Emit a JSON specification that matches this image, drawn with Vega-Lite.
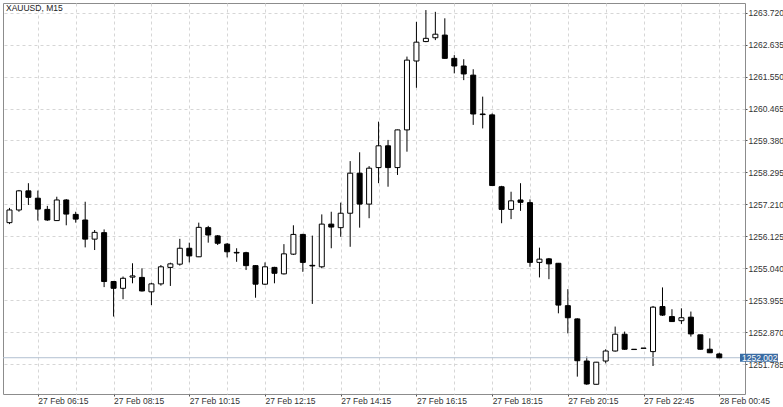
{
  "$schema": "https://vega.github.io/schema/vega-lite/v6.json",
  "width": 742,
  "height": 391,
  "autosize": {"type": "none"},
  "padding": {"left": 3, "top": 3, "right": 38, "bottom": 13},
  "background": "white",
  "title": {"text": "XAUUSD, M15", "anchor": "start", "frame": "group", "offset": -9, "dx": 3, "fontSize": 8.5, "fontWeight": "normal", "font": "Liberation Sans", "color": "#222"},
  "config": {
    "view": {"stroke": "#8c8c8c", "strokeWidth": 1},
    "axis": {"labelFont": "Liberation Sans", "labelFontSize": 8.5, "labelColor": "#333", "tickColor": "#555", "domain": false, "title": null, "gridColor": "#d6d6d6", "gridDash": [3, 3], "gridWidth": 1, "labelOverlap": false}
  },
  "data": {"values": [
    {"i":0,"t":"27 Feb 05:30","o":1256.59,"h":1257.09,"l":1256.54,"c":1257.02},
    {"i":1,"t":"27 Feb 05:45","o":1257.02,"h":1257.70,"l":1256.96,"c":1257.67},
    {"i":2,"t":"27 Feb 06:00","o":1257.67,"h":1257.93,"l":1257.19,"c":1257.45},
    {"i":3,"t":"27 Feb 06:15","o":1257.42,"h":1257.68,"l":1256.66,"c":1257.05},
    {"i":4,"t":"27 Feb 06:30","o":1257.04,"h":1257.16,"l":1256.65,"c":1256.68},
    {"i":5,"t":"27 Feb 06:45","o":1256.66,"h":1257.47,"l":1256.65,"c":1257.36},
    {"i":6,"t":"27 Feb 07:00","o":1257.36,"h":1257.39,"l":1256.50,"c":1256.88},
    {"i":7,"t":"27 Feb 07:15","o":1256.87,"h":1256.96,"l":1256.59,"c":1256.71},
    {"i":8,"t":"27 Feb 07:30","o":1256.68,"h":1257.30,"l":1255.75,"c":1256.03},
    {"i":9,"t":"27 Feb 07:45","o":1256.03,"h":1256.34,"l":1255.66,"c":1256.26},
    {"i":10,"t":"27 Feb 08:00","o":1256.25,"h":1256.36,"l":1254.40,"c":1254.59},
    {"i":11,"t":"27 Feb 08:15","o":1254.59,"h":1254.61,"l":1253.40,"c":1254.36},
    {"i":12,"t":"27 Feb 08:30","o":1254.36,"h":1254.76,"l":1253.99,"c":1254.70},
    {"i":13,"t":"27 Feb 08:45","o":1254.74,"h":1255.21,"l":1254.53,"c":1254.78},
    {"i":14,"t":"27 Feb 09:00","o":1254.73,"h":1255.04,"l":1254.25,"c":1254.27},
    {"i":15,"t":"27 Feb 09:15","o":1254.24,"h":1254.55,"l":1253.79,"c":1254.51},
    {"i":16,"t":"27 Feb 09:30","o":1254.51,"h":1255.15,"l":1254.45,"c":1255.09},
    {"i":17,"t":"27 Feb 09:45","o":1255.07,"h":1255.23,"l":1254.44,"c":1255.19},
    {"i":18,"t":"27 Feb 10:00","o":1255.18,"h":1256.04,"l":1255.13,"c":1255.72},
    {"i":19,"t":"27 Feb 10:15","o":1255.72,"h":1255.91,"l":1255.24,"c":1255.46},
    {"i":20,"t":"27 Feb 10:30","o":1255.43,"h":1256.59,"l":1255.42,"c":1256.43},
    {"i":21,"t":"27 Feb 10:45","o":1256.42,"h":1256.48,"l":1255.91,"c":1256.17},
    {"i":22,"t":"27 Feb 11:00","o":1256.14,"h":1256.17,"l":1255.83,"c":1255.89},
    {"i":23,"t":"27 Feb 11:15","o":1255.86,"h":1255.90,"l":1255.41,"c":1255.60},
    {"i":24,"t":"27 Feb 11:30","o":1255.58,"h":1255.72,"l":1255.26,"c":1255.56},
    {"i":25,"t":"27 Feb 11:45","o":1255.57,"h":1255.60,"l":1254.98,"c":1255.13},
    {"i":26,"t":"27 Feb 12:00","o":1255.13,"h":1255.15,"l":1254.04,"c":1254.50},
    {"i":27,"t":"27 Feb 12:15","o":1254.50,"h":1255.24,"l":1254.47,"c":1255.09},
    {"i":28,"t":"27 Feb 12:30","o":1255.07,"h":1255.09,"l":1254.53,"c":1254.87},
    {"i":29,"t":"27 Feb 12:45","o":1254.85,"h":1255.86,"l":1254.83,"c":1255.53},
    {"i":30,"t":"27 Feb 13:00","o":1255.52,"h":1256.50,"l":1255.49,"c":1256.19},
    {"i":31,"t":"27 Feb 13:15","o":1256.19,"h":1256.21,"l":1254.92,"c":1255.24},
    {"i":32,"t":"27 Feb 13:30","o":1255.14,"h":1256.15,"l":1253.83,"c":1255.12},
    {"i":33,"t":"27 Feb 13:45","o":1255.09,"h":1256.87,"l":1255.04,"c":1256.54},
    {"i":34,"t":"27 Feb 14:00","o":1256.54,"h":1256.96,"l":1255.72,"c":1256.44},
    {"i":35,"t":"27 Feb 14:15","o":1256.42,"h":1257.27,"l":1256.11,"c":1256.91},
    {"i":36,"t":"27 Feb 14:30","o":1256.91,"h":1258.68,"l":1255.77,"c":1258.27},
    {"i":37,"t":"27 Feb 14:45","o":1258.27,"h":1258.98,"l":1256.42,"c":1257.22},
    {"i":38,"t":"27 Feb 15:00","o":1257.22,"h":1258.51,"l":1256.74,"c":1258.44},
    {"i":39,"t":"27 Feb 15:15","o":1258.46,"h":1260.02,"l":1257.93,"c":1259.20},
    {"i":40,"t":"27 Feb 15:30","o":1259.20,"h":1259.40,"l":1257.81,"c":1258.46},
    {"i":41,"t":"27 Feb 15:45","o":1258.46,"h":1259.75,"l":1258.21,"c":1259.74},
    {"i":42,"t":"27 Feb 16:00","o":1259.74,"h":1262.23,"l":1259.00,"c":1262.11},
    {"i":43,"t":"27 Feb 16:15","o":1262.08,"h":1263.41,"l":1261.17,"c":1262.72},
    {"i":44,"t":"27 Feb 16:30","o":1262.74,"h":1263.81,"l":1262.72,"c":1262.85},
    {"i":45,"t":"27 Feb 16:45","o":1262.87,"h":1263.75,"l":1262.79,"c":1262.99},
    {"i":46,"t":"27 Feb 17:00","o":1262.96,"h":1263.53,"l":1262.16,"c":1262.17},
    {"i":47,"t":"27 Feb 17:15","o":1262.17,"h":1262.28,"l":1261.66,"c":1261.91},
    {"i":48,"t":"27 Feb 17:30","o":1261.91,"h":1262.14,"l":1261.43,"c":1261.64},
    {"i":49,"t":"27 Feb 17:45","o":1261.60,"h":1261.80,"l":1259.91,"c":1260.28},
    {"i":50,"t":"27 Feb 18:00","o":1260.28,"h":1260.87,"l":1259.79,"c":1260.26},
    {"i":51,"t":"27 Feb 18:15","o":1260.25,"h":1260.30,"l":1257.84,"c":1257.85},
    {"i":52,"t":"27 Feb 18:30","o":1257.81,"h":1257.84,"l":1256.57,"c":1257.04},
    {"i":53,"t":"27 Feb 18:45","o":1257.04,"h":1257.64,"l":1256.71,"c":1257.33},
    {"i":54,"t":"27 Feb 19:00","o":1257.36,"h":1257.93,"l":1256.99,"c":1257.28},
    {"i":55,"t":"27 Feb 19:15","o":1257.27,"h":1257.38,"l":1255.09,"c":1255.24},
    {"i":56,"t":"27 Feb 19:30","o":1255.24,"h":1255.74,"l":1254.73,"c":1255.35},
    {"i":57,"t":"27 Feb 19:45","o":1255.36,"h":1255.39,"l":1254.67,"c":1255.19},
    {"i":58,"t":"27 Feb 20:00","o":1255.21,"h":1255.22,"l":1253.51,"c":1253.79},
    {"i":59,"t":"27 Feb 20:15","o":1253.77,"h":1254.33,"l":1252.83,"c":1253.36},
    {"i":60,"t":"27 Feb 20:30","o":1253.32,"h":1253.34,"l":1251.36,"c":1251.90},
    {"i":61,"t":"27 Feb 20:45","o":1251.89,"h":1252.04,"l":1251.08,"c":1251.11},
    {"i":62,"t":"27 Feb 21:00","o":1251.10,"h":1251.86,"l":1251.09,"c":1251.85},
    {"i":63,"t":"27 Feb 21:15","o":1251.89,"h":1252.29,"l":1251.81,"c":1252.23},
    {"i":64,"t":"27 Feb 21:30","o":1252.23,"h":1253.06,"l":1252.21,"c":1252.80},
    {"i":65,"t":"27 Feb 21:45","o":1252.80,"h":1252.89,"l":1252.27,"c":1252.29},
    {"i":66,"t":"27 Feb 22:30","o":1252.29,"h":1252.29,"l":1252.28,"c":1252.28},
    {"i":67,"t":"27 Feb 22:45","o":1252.32,"h":1252.33,"l":1252.32,"c":1252.33},
    {"i":68,"t":"27 Feb 23:00","o":1252.21,"h":1253.76,"l":1251.72,"c":1253.72},
    {"i":69,"t":"27 Feb 23:15","o":1253.74,"h":1254.39,"l":1253.42,"c":1253.45},
    {"i":70,"t":"27 Feb 23:30","o":1253.40,"h":1253.65,"l":1253.22,"c":1253.23},
    {"i":71,"t":"27 Feb 23:45","o":1253.26,"h":1253.68,"l":1253.15,"c":1253.36},
    {"i":72,"t":"28 Feb 00:00","o":1253.38,"h":1253.57,"l":1252.72,"c":1252.81},
    {"i":73,"t":"28 Feb 00:15","o":1252.78,"h":1252.78,"l":1252.28,"c":1252.29},
    {"i":74,"t":"28 Feb 00:30","o":1252.29,"h":1252.66,"l":1252.16,"c":1252.17},
    {"i":75,"t":"28 Feb 00:45","o":1252.13,"h":1252.17,"l":1251.99,"c":1252.00}
  ]},
  "layer": [
    {
      "mark": {"type": "rule", "color": "#000000", "strokeWidth": 1},
      "encoding": {
        "x": {"field": "i", "type": "quantitative",
          "scale": {"domain": [-0.156, 77.19], "nice": false, "zero": false},
          "axis": {"values": [3,7,11,15,19,23,27,31,35,39,43,47,51,55,59,63,67,71,75], "tickCount": 40,
            "labelExpr": "(datum.value - 3) % 8 == 0 ? ['27 Feb 06:15','27 Feb 08:15','27 Feb 10:15','27 Feb 12:15','27 Feb 14:15','27 Feb 16:15','27 Feb 18:15','27 Feb 20:15','27 Feb 22:45','28 Feb 00:45'][(datum.value - 3) / 8] : ''",
            "labelAlign": "left", "labelOverlap": false, "labelFlush": false, "labelBound": false,
            "tickSize": 2, "labelPadding": 0, "grid": true,
            "tickOpacity": {"condition": {"test": "(datum.value - 3) % 8 == 0", "value": 1}, "value": 0}}},
        "y": {"field": "l", "type": "quantitative",
          "scale": {"domain": [1250.77, 1264.05], "nice": false, "zero": false},
          "axis": {"orient": "right", "values": [1251.785,1252.87,1253.955,1255.04,1256.125,1257.21,1258.295,1259.38,1260.465,1261.55,1262.635,1263.72], "tickCount": 30,
            "format": ".3f", "tickSize": 2, "labelPadding": 1, "grid": true, "labelAlign": "left", "labelBaseline": "middle", "labelOverlap": false, "labelFlush": false, "labelBound": false}},
        "y2": {"field": "h"}
      }
    },
    {
      "data": {"values": [{"price": 1252.002, "label": "1252.002"}]},
      "mark": {"type": "rule", "color": "#b3c1d1", "strokeWidth": 1},
      "encoding": {"y": {"field": "price", "type": "quantitative"}}
    },
    {
      "mark": {"type": "bar", "size": 5, "stroke": "#000000", "strokeWidth": 1},
      "encoding": {
        "x": {"field": "i", "type": "quantitative"},
        "y": {"field": "o", "type": "quantitative"},
        "y2": {"field": "c"},
        "fill": {"condition": {"test": "datum.c >= datum.o", "value": "#ffffff"}, "value": "#000000"}
      }
    },
    {
      "data": {"values": [{"price": 1252.002, "label": "1252.002"}]},
      "mark": {"type": "rect", "color": "#3a6ca3", "clip": false},
      "encoding": {
        "x": {"datum": 77.19, "type": "quantitative"},
        "x2": {"datum": 81.2},
        "y": {"datum": 1252.14, "type": "quantitative"},
        "y2": {"datum": 1251.865}
      }
    },
    {
      "data": {"values": [{"price": 1252.002, "label": "1252.002"}]},
      "mark": {"type": "text", "color": "#ffffff", "align": "left", "baseline": "middle", "dx": 2, "font": "Liberation Sans", "fontSize": 8.5, "clip": false},
      "encoding": {
        "x": {"datum": 77.19, "type": "quantitative"},
        "y": {"field": "price", "type": "quantitative"},
        "text": {"field": "label"}
      }
    }
  ]
}
